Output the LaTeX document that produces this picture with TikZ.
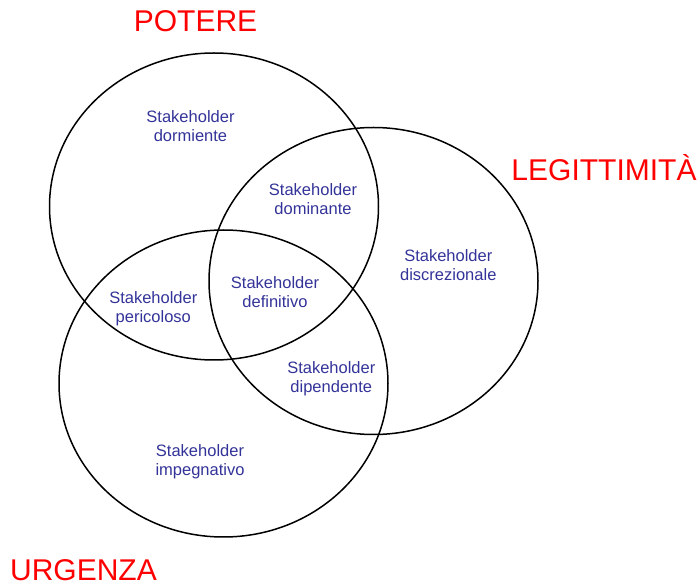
\documentclass[tikz,border=0pt]{standalone}
\usepackage{fontspec}
\setmainfont{Liberation Sans}
\definecolor{labelblue}{RGB}{51,51,153}
\definecolor{setred}{RGB}{255,0,0}
% two-line region label whose baseline is the first line
\newcommand{\sklabel}[2]{\begin{tabular}[t]{@{}c@{}}#1\\#2\end{tabular}}
\tikzset{
  setring/.style={draw=black, line width=1.5pt},
  region/.style={anchor=base, inner sep=0pt, text=labelblue,
    font=\fontsize{16.5}{19}\selectfont},
  settitle/.style={anchor=base, inner sep=0pt, text=setred,
    font=\fontsize{30}{34}\selectfont}
}
\begin{document}
\begin{tikzpicture}[x=1pt,y=-1pt]
\useasboundingbox (0,0) rectangle (697,585);
% the three sets
\draw[setring] (214,206.5) ellipse [x radius=164.5, y radius=153.5];
\draw[setring] (373.5,281) ellipse [x radius=164.5, y radius=153.5];
\draw[setring] (223.5,383.5) ellipse [x radius=164.5, y radius=153.5];
% set titles
\node[settitle] (potere) at (195.5,32) {POTERE};
\node[settitle] (legit) at (604,181) {LEGITTIMITÀ};
\node[settitle] (urgenza) at (83.5,580) {URGENZA};
% regions
\node[region] (dorm) at (190.5,122.7) {\sklabel{Stakeholder}{dormiente}};
\node[region] (domin) at (313,195.7) {\sklabel{Stakeholder}{dominante}};
\node[region] (defin) at (275,288.3) {\sklabel{Stakeholder}{definitivo}};
\node[region] (peric) at (153.3,303.3) {\sklabel{Stakeholder}{pericoloso}};
\node[region] (discr) at (448.3,261.7) {\sklabel{Stakeholder}{discrezionale}};
\node[region] (dipen) at (331.3,373.3) {\sklabel{Stakeholder}{dipendente}};
\node[region] (impeg) at (200,456.7) {\sklabel{Stakeholder}{impegnativo}};
\end{tikzpicture}
\end{document}
